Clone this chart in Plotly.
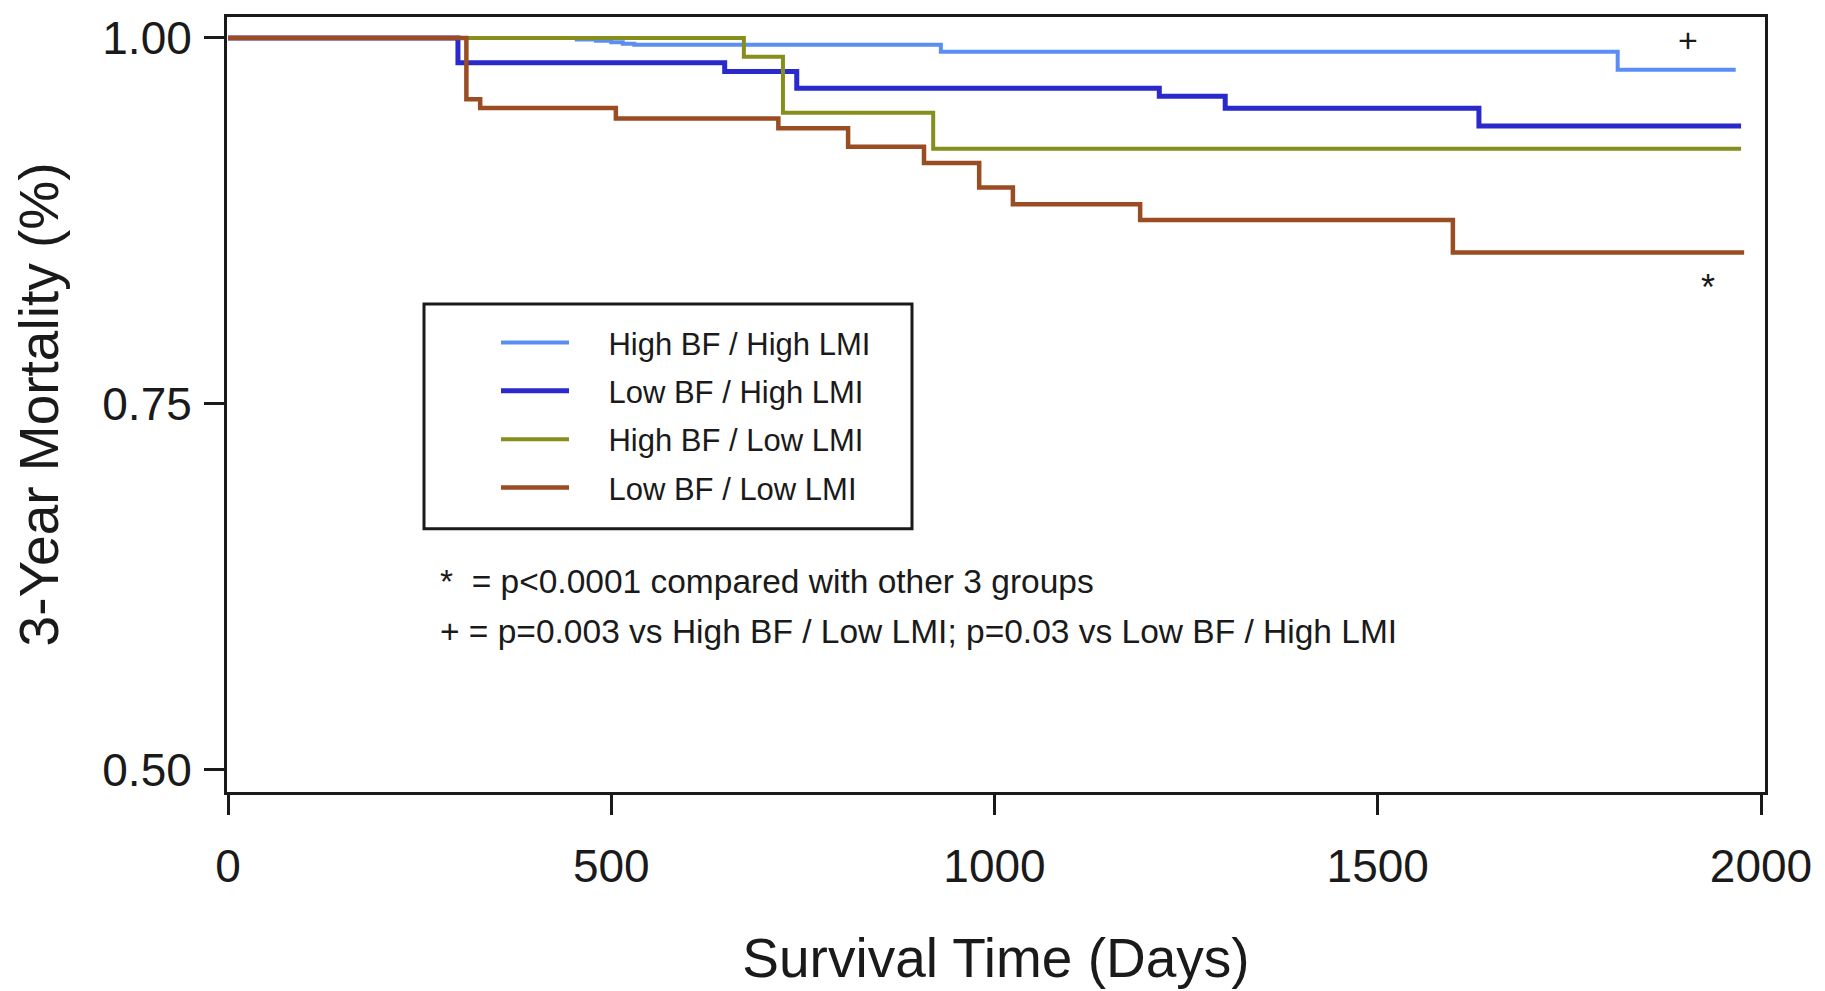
import plotly.graph_objects as go

# ---- data ----
series_names = ["High BF / High LMI", "Low BF / High LMI", "High BF / Low LMI", "Low BF / Low LMI"]
series_colors = ["#5b8ef2", "#2a2acc", "#878f1c", "#9a4c22"]
series_widths = [4, 5, 4, 4.5]

hbhl_days = [0, 455, 480, 500, 515, 530, 930, 1813, 1967]
hbhl_surv = [1.0, 0.9990, 0.9980, 0.9970, 0.9960, 0.9953, 0.9905, 0.9783, 0.9783]

lbhl_days = [0, 300, 648, 742, 1215, 1301, 1632, 1974]
lbhl_surv = [1.0, 0.9831, 0.9770, 0.9657, 0.9601, 0.9520, 0.9398, 0.9398]

hbll_days = [0, 673, 724, 920, 1974]
hbll_surv = [1.0, 0.9871, 0.9488, 0.9242, 0.9242]

lbll_days = [0, 311, 329, 506, 718, 809, 908, 980, 1024, 1190, 1598, 1978]
lbll_surv = [1.0, 0.9581, 0.9522, 0.9450, 0.9383, 0.9256, 0.9146, 0.8977, 0.8863, 0.8755, 0.8534, 0.8534]

x_ticks = [0, 500, 1000, 1500, 2000]
y_ticks = [0.50, 0.75, 1.00]
y_ticktext = ["0.50", "0.75", "1.00"]

note_lines = ["*\u00a0\u00a0= p<0.0001 compared with other 3 groups",
              "+ = p=0.003 vs High BF / Low LMI; p=0.03 vs Low BF / High LMI"]

FONT = "Liberation Sans, Arial, Helvetica, sans-serif"
INK = "#1a1a1a"
PAD = "\u00a0\u00a0\u00a0\u00a0"

fig = go.Figure()
all_days = [hbhl_days, lbhl_days, hbll_days, lbll_days]
all_surv = [hbhl_surv, lbhl_surv, hbll_surv, lbll_surv]
for name, col, w, d, s in zip(series_names, series_colors, series_widths, all_days, all_surv):
    fig.add_trace(go.Scatter(
        x=d, y=s, mode="lines", name=PAD + name, legendgroup=name,
        line=dict(color=col, width=w, shape="hv"),
    ))

W, H = 1825, 991
ml, mr, mt, mb = 227, 60, 13, 195
pw, ph = W - ml - mr, H - mt - mb

def px_x(p):
    return (p - ml) / pw

def px_y(p):
    return (H - mb - p) / ph

fig.update_layout(
    width=W, height=H,
    margin=dict(l=ml, r=mr, t=mt, b=mb),
    paper_bgcolor="white", plot_bgcolor="white",
    font=dict(family=FONT, color=INK),
    showlegend=True,
    legend=dict(
        x=px_x(496), y=px_y(315), xanchor="left", yanchor="top",
        bgcolor="rgba(0,0,0,0)", borderwidth=0,
        font=dict(size=31, family=FONT, color=INK),
        itemwidth=68, tracegroupgap=5, traceorder="grouped",
    ),
    xaxis=dict(
        range=[-1.3, 2005.2], tickvals=x_ticks, ticks="outside", ticklen=20,
        tickwidth=3, tickcolor=INK, showline=True, linewidth=3, linecolor=INK,
        mirror=True, showgrid=False, zeroline=False,
        tickfont=dict(size=46, family=FONT, color=INK), ticklabelstandoff=12,
        title=dict(text="Survival Time (Days)", font=dict(size=55, family=FONT, color=INK), standoff=48),
    ),
    yaxis=dict(
        range=[0.48455, 1.01432], tickvals=y_ticks, ticktext=y_ticktext,
        ticks="outside", ticklen=20, tickwidth=3, tickcolor=INK,
        showline=True, linewidth=3, linecolor=INK, mirror=True,
        showgrid=False, zeroline=False,
        tickfont=dict(size=46, family=FONT, color=INK), ticklabelstandoff=3,
        title=dict(text="3-Year Mortality (%)", font=dict(size=55, family=FONT, color=INK), standoff=27),
    ),
    shapes=[dict(type="rect", xref="paper", yref="paper",
                 x0=px_x(424), x1=px_x(912), y0=px_y(530), y1=px_y(303),
                 line=dict(color=INK, width=3), layer="above")],
    annotations=[
        dict(text=note_lines[0], xref="paper", yref="paper", x=px_x(438), y=px_y(583),
             xanchor="left", yanchor="middle", showarrow=False,
             font=dict(size=33.5, family=FONT, color=INK)),
        dict(text=note_lines[1], xref="paper", yref="paper", x=px_x(438), y=px_y(634),
             xanchor="left", yanchor="middle", showarrow=False,
             font=dict(size=33.5, family=FONT, color=INK)),
        dict(text="+", xref="x", yref="y", x=1905, y=0.9988, showarrow=False,
             font=dict(size=34, family=FONT, color=INK)),
        dict(text="*", xref="x", yref="y", x=1931, y=0.8294, showarrow=False,
             font=dict(size=36, family=FONT, color=INK)),
    ],
)

fig.write_html("out.html")
